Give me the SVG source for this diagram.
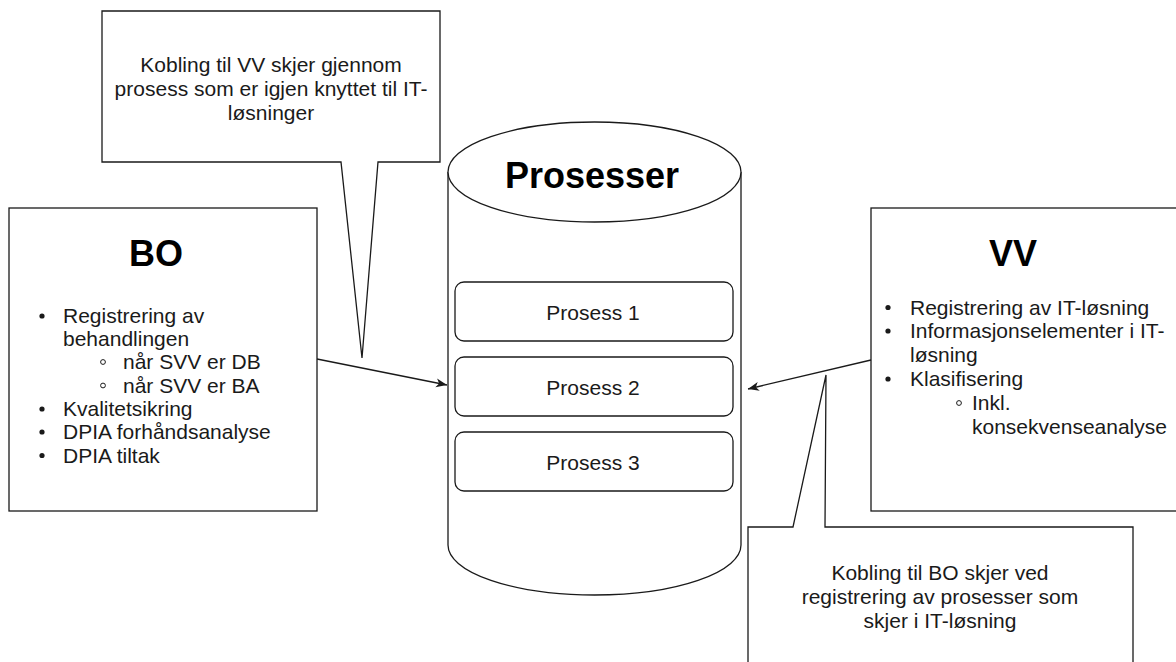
<svg xmlns="http://www.w3.org/2000/svg" width="1176" height="662" viewBox="0 0 1176 662">
  <style>
    .shape { fill: #ffffff; stroke: #1a1a1a; stroke-width: 1.3; }
    .txt { font-family: "Liberation Sans", Arial, Helvetica, sans-serif; font-size: 21px; fill: #1a1a1a; }
    .mid { text-anchor: middle; }
    .title { font-family: "Liberation Sans", Arial, Helvetica, sans-serif; font-size: 36px; font-weight: bold; fill: #000000; text-anchor: middle; }
    .dot { fill: #1a1a1a; }
    .ring { fill: none; stroke: #1a1a1a; stroke-width: 1; }
    .conn { fill: none; stroke: #1a1a1a; stroke-width: 1.3; }
  </style>
  <defs>
    <marker id="arrow" markerUnits="userSpaceOnUse" markerWidth="12" markerHeight="10" refX="11" refY="5" orient="auto">
      <path d="M0,0.5 L11,5 L0,9.5 L3,5 Z" fill="#1a1a1a"/>
    </marker>
  </defs>
  <rect width="1176" height="662" fill="#ffffff"/>

  <g id="callout-top">
    <path class="shape" d="M102,11 H440 V162 H378 L362,358 L341,162 H102 Z"/>
    <text class="txt mid" x="271" y="72">Kobling til VV skjer gjennom</text>
    <text class="txt mid" x="271" y="96">prosess som er igjen knyttet til IT-</text>
    <text class="txt mid" x="271" y="120">løsninger</text>
  </g>

  <g id="bo">
    <rect class="shape" x="9" y="208" width="308" height="303"/>
    <text class="title" x="156" y="266">BO</text>
    <circle class="dot" cx="42" cy="316" r="2.6"/>
    <text class="txt" x="63" y="323">Registrering av</text>
    <text class="txt" x="63" y="346">behandlingen</text>
    <circle class="ring" cx="103" cy="362" r="2.4"/>
    <text class="txt" x="123" y="369">når SVV er DB</text>
    <circle class="ring" cx="103" cy="385.5" r="2.4"/>
    <text class="txt" x="123" y="392.5">når SVV er BA</text>
    <circle class="dot" cx="42" cy="409" r="2.6"/>
    <text class="txt" x="63" y="416">Kvalitetsikring</text>
    <circle class="dot" cx="42" cy="432" r="2.6"/>
    <text class="txt" x="63" y="439">DPIA forhåndsanalyse</text>
    <circle class="dot" cx="42" cy="455.5" r="2.6"/>
    <text class="txt" x="63" y="462.5">DPIA tiltak</text>
  </g>

  <g id="prosesser">
    <path class="shape" d="M448,172 A146.5,50 0 0 1 741,172 V545 A146.5,50 0 0 1 448,545 Z"/>
    <path class="shape" fill="none" d="M448,172 A146.5,50 0 0 0 741,172"/>
    <text class="title" x="592" y="188">Prosesser</text>
  </g>

  <g id="prosess-1">
    <rect class="shape" x="455" y="282" width="278" height="59" rx="9"/>
    <text class="txt mid" x="593" y="320">Prosess 1</text>
  </g>
  <g id="prosess-2">
    <rect class="shape" x="455" y="357" width="278" height="59" rx="9"/>
    <text class="txt mid" x="593" y="395">Prosess 2</text>
  </g>
  <g id="prosess-3">
    <rect class="shape" x="455" y="432" width="278" height="59" rx="9"/>
    <text class="txt mid" x="593" y="470">Prosess 3</text>
  </g>

  <g id="vv">
    <rect class="shape" x="871" y="208" width="320" height="303"/>
    <text class="title" x="1013" y="266">VV</text>
    <circle class="dot" cx="888" cy="307.5" r="2.6"/>
    <text class="txt" x="910" y="314.5">Registrering av IT-løsning</text>
    <circle class="dot" cx="888" cy="331" r="2.6"/>
    <text class="txt" x="910" y="338">Informasjonselementer i IT-</text>
    <text class="txt" x="910" y="362">løsning</text>
    <circle class="dot" cx="888" cy="379" r="2.6"/>
    <text class="txt" x="910" y="386">Klasifisering</text>
    <circle class="ring" cx="959" cy="403" r="2.4"/>
    <text class="txt" x="972" y="410">Inkl.</text>
    <text class="txt" x="972" y="434">konsekvenseanalyse</text>
  </g>

  <g id="callout-bottom">
    <path class="shape" d="M748,527 H793 L826,375 L825,527 H1133 V700 H748 Z"/>
    <text class="txt mid" x="940" y="580">Kobling til BO skjer ved</text>
    <text class="txt mid" x="940" y="604">registrering av prosesser som</text>
    <text class="txt mid" x="940" y="628">skjer i IT-løsning</text>
  </g>

  <g id="connectors">
    <line class="conn" x1="317" y1="359" x2="447" y2="385" marker-end="url(#arrow)"/>
    <line class="conn" x1="871" y1="360" x2="748" y2="389" marker-end="url(#arrow)"/>
  </g>
</svg>
